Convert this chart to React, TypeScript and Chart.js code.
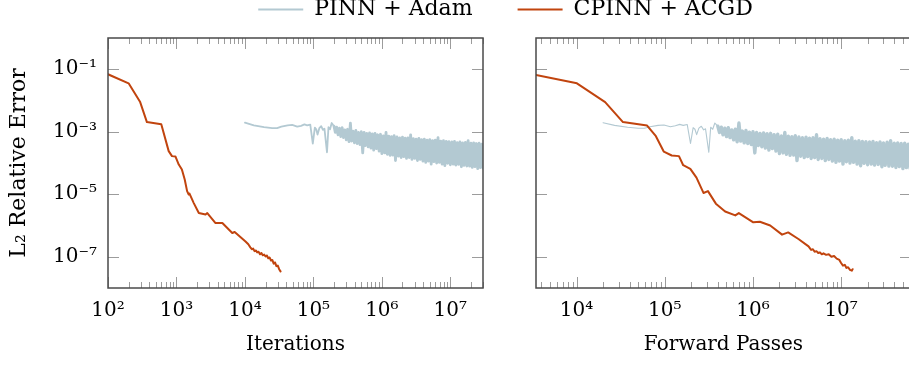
import { useEffect, useRef } from 'react';
import { Chart, registerables } from 'chart.js';

Chart.register(...registerables);

const FONT_FAMILY = "'DejaVu Serif', 'Liberation Serif', serif";
const PINN_COLOR = '#b3c9d2';
const CPINN_COLOR = '#c1440e';
const FRAME_COLOR = '#4a4a4a';
const TICK_COLOR = '#9c9c9c';

// ---------------- data ----------------
// CPINN + ACGD, error vs. iterations (left panel)
const cpinnIterations = [
  100, 200, 295, 370, 600, 770, 860, 965, 1080, 1200, 1320, 1430, 1510, 1550, 1790,
  2120, 2660, 2820, 3720, 4680, 6530, 7080, 10200, 11200, 12000, 12600, 13200,
  13800, 14500, 15100, 15800, 16600, 17400, 18200, 19100, 20000, 20900, 21900,
  22900, 24000, 25100, 26300, 27500, 28800, 30200, 31600, 33100,
];
const cpinnIterErrors = [
  0.069, 0.0355, 8.9e-3, 2.04e-3, 1.74e-3, 2.4e-4, 1.66e-4, 1.62e-4, 8.9e-5, 6.2e-5,
  2.95e-5, 1.26e-5, 9.8e-6, 1.05e-5, 5.2e-6, 2.5e-6, 2.24e-6, 2.5e-6, 1.2e-6, 1.2e-6,
  5.75e-7, 6.2e-7, 3.09e-7, 2.51e-7, 2.0e-7, 1.74e-7, 1.82e-7, 1.51e-7, 1.58e-7,
  1.38e-7, 1.45e-7, 1.2e-7, 1.32e-7, 1.12e-7, 1.17e-7, 1.02e-7, 1.1e-7, 8.9e-8,
  9.5e-8, 7.6e-8, 7.9e-8, 6.0e-8, 6.6e-8, 5.0e-8, 5.2e-8, 4.0e-8, 3.4e-8,
];

// CPINN + ACGD, error vs. forward passes (right panel)
const cpinnForwardPasses = [
  3470, 10100, 21100, 33600, 63100, 79400, 97700, 120000, 145000, 162000, 195000,
  229000, 275000, 309000, 380000, 484000, 631000, 692000, 1010000, 1200000, 1570000,
  2140000, 2510000, 3280000, 4270000, 4570000, 4790000, 5010000, 5250000, 5500000,
  5750000, 6030000, 6310000, 6760000, 7240000, 7760000, 8320000, 8910000, 9550000,
  10000000, 10500000, 11000000, 11500000, 12000000, 12600000, 13200000, 13500000,
];
const cpinnForwardErrors = [
  0.065, 0.0355, 8.9e-3, 2.04e-3, 1.58e-3, 7.2e-4, 2.3e-4, 1.74e-4, 1.66e-4, 8.5e-5,
  6.5e-5, 3.4e-5, 1.1e-5, 1.26e-5, 5.0e-6, 2.8e-6, 2.1e-6, 2.5e-6, 1.26e-6, 1.32e-6,
  1.0e-6, 5.1e-7, 6.0e-7, 3.7e-7, 2.14e-7, 1.66e-7, 1.74e-7, 1.45e-7, 1.51e-7,
  1.32e-7, 1.38e-7, 1.2e-7, 1.29e-7, 1.15e-7, 1.2e-7, 1.0e-7, 1.05e-7, 8.7e-8,
  7.9e-8, 6.3e-8, 5.2e-8, 5.5e-8, 4.4e-8, 4.6e-8, 3.8e-8, 3.6e-8, 4.0e-8,
];

// PINN + Adam, error vs. iterations
const pinnIterations = [
  10000, 13500, 19000, 25000, 29500, 34000, 42000, 49000, 58000, 66000, 74000, 81000,
  90000, 98000, 105000, 110000, 115000, 122000, 130000, 138000, 145000, 158000,
  166000, 175000, 185000,
  2.0e5, 2.09e5, 2.19e5, 2.29e5, 2.4e5, 2.51e5, 2.63e5, 2.75e5, 2.88e5, 3.02e5,
  3.16e5, 3.31e5, 3.47e5, 3.63e5, 3.8e5, 3.98e5, 4.17e5, 4.37e5, 4.57e5, 4.79e5,
  5.01e5, 5.25e5, 5.5e5, 5.75e5, 6.03e5, 6.31e5, 6.61e5, 6.92e5, 7.24e5, 7.59e5,
  7.94e5, 8.32e5, 8.71e5, 9.12e5, 9.55e5,
  1.0e6, 1.05e6, 1.1e6, 1.15e6, 1.2e6, 1.26e6, 1.32e6, 1.38e6, 1.45e6, 1.51e6,
  1.58e6, 1.66e6, 1.74e6, 1.82e6, 1.91e6, 2.0e6, 2.09e6, 2.19e6, 2.29e6, 2.4e6,
  2.51e6, 2.63e6, 2.75e6, 2.88e6, 3.02e6, 3.16e6, 3.31e6, 3.47e6, 3.63e6, 3.8e6,
  3.98e6, 4.17e6, 4.37e6, 4.57e6, 4.79e6, 5.01e6, 5.25e6, 5.5e6, 5.75e6, 6.03e6,
  6.31e6, 6.61e6, 6.92e6, 7.24e6, 7.59e6, 7.94e6, 8.32e6, 8.71e6, 9.12e6, 9.55e6,
  1.0e7, 1.05e7, 1.1e7, 1.15e7, 1.2e7, 1.26e7, 1.32e7, 1.38e7, 1.45e7, 1.51e7,
  1.58e7, 1.66e7, 1.74e7, 1.82e7, 1.91e7, 2.0e7, 2.09e7, 2.19e7, 2.29e7, 2.4e7,
  2.51e7, 2.63e7, 2.75e7, 2.88e7, 3.02e7, 3.16e7,
];
const pinnErrors = [
  1.95e-3, 1.6e-3, 1.4e-3, 1.3e-3, 1.3e-3, 1.45e-3, 1.6e-3, 1.65e-3, 1.45e-3, 1.55e-3,
  1.72e-3, 1.6e-3, 1.7e-3, 4.2e-4, 1.35e-3, 1.2e-3, 8.1e-4, 1.3e-3, 1.5e-3, 1.15e-3,
  1.25e-3, 2.2e-4, 1.4e-3, 1.2e-3, 1.9e-3,
  1.5e-3, 9.5e-4, 1.4e-3, 8.0e-4, 1.3e-3, 7.0e-4, 1.35e-3, 6.5e-4, 1.15e-3, 5.5e-4,
  1.2e-3, 4.8e-4, 1.9e-3, 5.0e-4, 1.05e-3, 4.4e-4, 1.1e-3, 4.2e-4, 9.6e-4, 3.9e-4,
  1.0e-3, 2.1e-4, 9.5e-4, 3.6e-4, 8.8e-4, 3.3e-4, 9.2e-4, 3.0e-4, 8.6e-4, 2.6e-4,
  8.9e-4, 2.9e-4, 8.0e-4, 2.4e-4, 8.3e-4,
  2.0e-4, 7.4e-4, 2.1e-4, 9.5e-4, 1.9e-4, 7.2e-4, 1.75e-4, 7.0e-4, 1.8e-4, 7.5e-4,
  1.2e-4, 6.8e-4, 1.65e-4, 6.4e-4, 1.5e-4, 6.7e-4, 1.6e-4, 6.2e-4, 1.4e-4, 6.4e-4,
  1.5e-4, 8.0e-4, 1.3e-4, 6.0e-4, 1.4e-4, 5.8e-4, 1.2e-4, 6.1e-4, 1.3e-4, 5.6e-4,
  1.15e-4, 5.8e-4, 1.05e-4, 5.4e-4, 1.15e-4, 5.6e-4, 9.2e-5, 5.2e-4, 1.1e-4, 5.4e-4,
  1.0e-4, 6.5e-4, 1.05e-4, 5.0e-4, 9.2e-5, 5.2e-4, 8.2e-5, 4.9e-4, 9.8e-5, 4.8e-4,
  8.8e-5, 4.7e-4, 9.2e-5, 4.9e-4, 8.6e-5, 4.5e-4, 9.0e-5, 4.7e-4, 7.6e-5, 4.4e-4,
  8.4e-5, 4.6e-4, 8.0e-5, 5.2e-4, 7.9e-5, 4.3e-4, 7.2e-5, 4.4e-4, 7.7e-5, 4.2e-4,
  6.6e-5, 4.3e-4, 7.1e-5, 4.0e-4, 6.8e-5, 4.1e-4,
];
// plain Adam: one forward pass for the loss and one for its gradient → 2 per iteration
const ADAM_FORWARD_PASSES_PER_ITERATION = 2;

const Y_TICKS = [1e-1, 1e-3, 1e-5, 1e-7];
const X_TICKS_ITER = [1e2, 1e3, 1e4, 1e5, 1e6, 1e7];
const X_TICKS_FWD = [1e4, 1e5, 1e6, 1e7];

// ---------------- layout constants ----------------
const H = 366;
const LEFT_W = 1011; // wider than the window so the centred legend lands where the figure's does
const RIGHT_LEFT = 480;
const RIGHT_W = 431;
const PLOT_TOP = 38;
const PLOT_BOTTOM = 288;
const LEFT_PLOT_L = 108;
const LEFT_PLOT_R = 483;
const RIGHT_PLOT_L = 536;
const LEGEND_FONT = 22;
const LEGEND_PAD = 45;
const LEGEND_CENTER_Y = 9.5;
const MAJOR_LEN = 11;
const MINOR_LEN = 6;

const SUP: Record<string, string> = {
  '-': '\u207B', '0': '\u2070', '1': '\u00B9', '2': '\u00B2', '3': '\u00B3',
  '4': '\u2074', '5': '\u2075', '6': '\u2076', '7': '\u2077', '8': '\u2078', '9': '\u2079',
};
const pow10Label = (v: number) =>
  '10' + String(Math.round(Math.log10(v))).split('').map((c) => SUP[c]).join('');

const toPoints = (xs: number[], ys: number[]) => xs.map((x, i) => ({ x, y: ys[i] }));

const framePlugin = {
  id: 'pgfFrame',
  afterDraw(chart: any) {
    const { ctx, chartArea } = chart;
    const { left, top, right, bottom } = chartArea;
    const xs = chart.scales.x;
    const ys = chart.scales.y;
    ctx.save();
    ctx.beginPath();
    ctx.strokeStyle = TICK_COLOR;
    ctx.lineWidth = 1;
    const e0 = Math.floor(Math.log10(xs.min));
    const e1 = Math.ceil(Math.log10(xs.max));
    for (let e = e0; e <= e1; e++) {
      for (let m = 1; m <= 9; m++) {
        const v = m * Math.pow(10, e);
        if (v < xs.min * 0.9999 || v > xs.max * 1.0001) continue;
        const px = Math.round(xs.getPixelForValue(v)) + 0.5;
        const len = m === 1 ? MAJOR_LEN : MINOR_LEN;
        ctx.moveTo(px, bottom);
        ctx.lineTo(px, bottom - len);
        ctx.moveTo(px, top);
        ctx.lineTo(px, top + len);
      }
    }
    for (const v of Y_TICKS) {
      const py = Math.round(ys.getPixelForValue(v)) + 0.5;
      ctx.moveTo(left, py);
      ctx.lineTo(left + MAJOR_LEN, py);
      ctx.moveTo(right, py);
      ctx.lineTo(right - MAJOR_LEN, py);
    }
    ctx.stroke();
    ctx.strokeStyle = FRAME_COLOR;
    ctx.lineWidth = 1.5;
    ctx.strokeRect(left, top, right - left, bottom - top);
    ctx.restore();
  },
};

const font = (size: number) => ({ family: FONT_FAMILY, size, lineHeight: 1.2 });

const hiddenAxis = (position: string, fit: (s: any) => void) => ({
  type: 'linear',
  position,
  display: true,
  grid: { display: false, drawTicks: false },
  border: { display: false },
  ticks: { display: false },
  afterFit: fit,
});

function lineDataset(
  label: string,
  data: any[],
  color: string,
  width: number,
  order: number,
  noisyFrom?: number,
  noisyWidth?: number,
) {
  const ds: any = {
    label,
    data,
    borderColor: color,
    backgroundColor: color,
    borderWidth: width,
    pointRadius: 0,
    pointHoverRadius: 0,
    tension: 0,
    borderJoinStyle: 'round',
    borderCapStyle: 'round',
    fill: false,
    order,
  };
  if (noisyFrom !== undefined) {
    // the dense, oscillating part of the Adam history reads as a solid band
    ds.segment = {
      borderWidth: (c: any) => (c.p0.parsed.x >= noisyFrom ? noisyWidth : width),
    };
  }
  return ds;
}

function xAxis(min: number, max: number, ticks: number[], title: string) {
  return {
    type: 'logarithmic',
    position: 'bottom',
    min,
    max,
    grid: { display: false, drawTicks: false },
    border: { display: false },
    ticks: {
      autoSkip: false,
      maxRotation: 0,
      padding: 11,
      color: '#000',
      font: font(20),
      callback: (v: number) => pow10Label(v),
    },
    afterBuildTicks: (s: any) => {
      s.ticks = ticks.map((value) => ({ value }));
    },
    afterFit: (s: any) => {
      s.height = H - PLOT_BOTTOM;
    },
    title: {
      display: true,
      text: title,
      color: '#000',
      font: font(20),
      padding: { top: 0, bottom: 9 },
    },
  };
}

function yAxis(width: number, showLabels: boolean) {
  return {
    type: 'logarithmic',
    position: 'left',
    min: 1e-8,
    max: 1,
    grid: { display: false, drawTicks: false },
    border: { display: false },
    ticks: {
      display: showLabels,
      autoSkip: false,
      padding: 11,
      color: '#000',
      font: font(20),
      callback: (v: number) => pow10Label(v),
    },
    afterBuildTicks: (s: any) => {
      s.ticks = Y_TICKS.map((value) => ({ value }));
    },
    afterFit: (s: any) => {
      s.width = width;
    },
    title: {
      display: showLabels,
      text: 'L\u2082 Relative Error',
      color: '#000',
      font: font(22),
      padding: { top: 6, bottom: 0 },
    },
  };
}

export default function App() {
  const leftRef = useRef<HTMLCanvasElement>(null);
  const rightRef = useRef<HTMLCanvasElement>(null);

  useEffect(() => {
    Chart.defaults.font.family = FONT_FAMILY;
    Chart.defaults.color = '#000';
    const pinnForward = pinnIterations.map((v) => v * ADAM_FORWARD_PASSES_PER_ITERATION);

    const legendTop = LEGEND_CENTER_Y - LEGEND_FONT / 2 - LEGEND_PAD;
    const legendBottom = legendTop + LEGEND_FONT + LEGEND_PAD + 10;

    const left = new Chart(leftRef.current as HTMLCanvasElement, {
      type: 'line',
      data: {
        datasets: [
          lineDataset('PINN + Adam', toPoints(pinnIterations, pinnErrors), PINN_COLOR, 1.8, 2, 1.9e5, 2.8),
          lineDataset('CPINN + ACGD', toPoints(cpinnIterations, cpinnIterErrors), CPINN_COLOR, 2, 1),
        ] as any,
      },
      options: {
        animation: false,
        responsive: false,
        devicePixelRatio: 1,
        events: [],
        layout: { padding: { top: legendTop, left: 0, right: 0, bottom: 0 } },
        plugins: {
          tooltip: { enabled: false },
          legend: {
            display: true,
            position: 'top',
            align: 'center',
            labels: {
              boxWidth: 45,
              boxHeight: 2,
              padding: LEGEND_PAD,
              color: '#000',
              font: font(LEGEND_FONT),
              sort: (a: any, b: any) => a.datasetIndex - b.datasetIndex,
              generateLabels: (chart: any) =>
                Chart.defaults.plugins.legend.labels
                  .generateLabels(chart)
                  .map((l: any) => ({ ...l, fillStyle: l.strokeStyle, lineWidth: 0 })),
            },
          },
        },
        scales: {
          x: xAxis(100, 3e7, X_TICKS_ITER, 'Iterations'),
          y: yAxis(LEFT_PLOT_L, true),
          xTopGap: hiddenAxis('top', (s: any) => {
            s.height = PLOT_TOP - legendBottom;
          }),
          yRightGap: hiddenAxis('right', (s: any) => {
            s.width = LEFT_W - LEFT_PLOT_R;
          }),
        } as any,
      },
      plugins: [framePlugin],
    } as any);

    const right = new Chart(rightRef.current as HTMLCanvasElement, {
      type: 'line',
      data: {
        datasets: [
          lineDataset('PINN + Adam', toPoints(pinnForward, pinnErrors), PINN_COLOR, 1.1, 2, 3.8e5, 3.4),
          lineDataset('CPINN + ACGD', toPoints(cpinnForwardPasses, cpinnForwardErrors), CPINN_COLOR, 2, 1),
        ] as any,
      },
      options: {
        animation: false,
        responsive: false,
        devicePixelRatio: 1,
        events: [],
        layout: { padding: { top: PLOT_TOP, left: 0, right: 0, bottom: 0 } },
        plugins: { tooltip: { enabled: false }, legend: { display: false } },
        scales: {
          x: xAxis(3470, 6.2e7, X_TICKS_FWD, 'Forward Passes'),
          y: yAxis(RIGHT_PLOT_L - RIGHT_LEFT, false),
        } as any,
      },
      plugins: [framePlugin],
    } as any);

    return () => {
      left.destroy();
      right.destroy();
    };
  }, []);

  return (
    <div
      style={{
        position: 'absolute',
        left: 0,
        top: 0,
        width: 909,
        height: H,
        overflow: 'hidden',
        background: '#fff',
      }}
    >
      <canvas
        ref={leftRef}
        width={LEFT_W}
        height={H}
        style={{ position: 'absolute', left: 0, top: 0, width: LEFT_W, height: H }}
      />
      <canvas
        ref={rightRef}
        width={RIGHT_W}
        height={H}
        style={{ position: 'absolute', left: RIGHT_LEFT, top: 0, width: RIGHT_W, height: H }}
      />
    </div>
  );
}
